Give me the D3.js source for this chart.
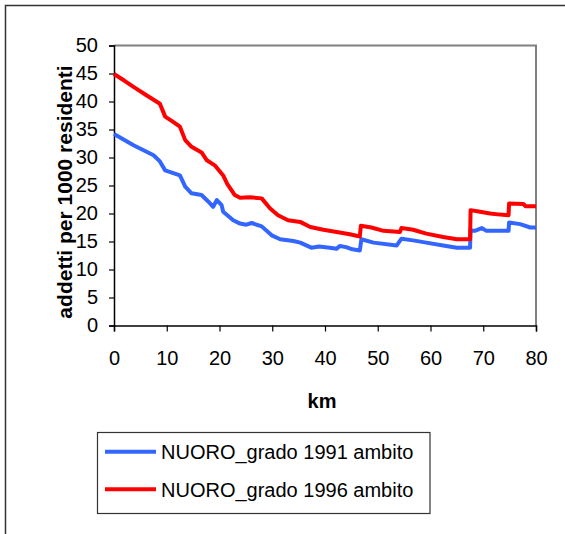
<!DOCTYPE html>
<html>
<head>
<meta charset="utf-8">
<script src="https://cdn.jsdelivr.net/npm/d3@7"></script>
<style>
  html, body { margin: 0; padding: 0; background: #fff; }
  svg { display: block; }
  text { font-family: "Liberation Sans", Arial, sans-serif; fill: #000; }
</style>
</head>
<body>
<svg id="chart" width="565" height="534"></svg>
<script>
// ---- data ----
const seriesNames = ["NUORO_grado 1991 ambito", "NUORO_grado 1996 ambito"];
const xTicks = [0, 10, 20, 30, 40, 50, 60, 70, 80];
const yTicks = [0, 5, 10, 15, 20, 25, 30, 35, 40, 45, 50];

const km1991 = [0, 3.7, 7.5, 8.7, 9.7, 12.5, 13.5, 14.7, 16.6, 17.9, 18.8, 19.5, 20.4, 20.7, 22.6, 23.9, 25.1, 26.1, 28, 29.9, 31.5, 34, 35.3, 37.4, 38.9, 40.9, 42.2, 42.8, 44, 45.2, 46.6, 46.9, 49.2, 53.6, 54.5, 56.7, 59.2, 62.4, 65, 67.5, 67.6, 68.4, 69.7, 70.6, 74.8, 74.9, 77, 78.9, 80];
const addetti1991 = [34.2, 32.2, 30.4, 29.3, 27.7, 26.8, 24.8, 23.6, 23.3, 22.1, 21.2, 22.4, 21.5, 20.3, 18.8, 18.2, 18.0, 18.3, 17.7, 16.1, 15.4, 15.1, 14.8, 13.9, 14.1, 13.9, 13.7, 14.2, 14.0, 13.6, 13.4, 15.4, 14.8, 14.3, 15.5, 15.2, 14.8, 14.3, 13.9, 13.9, 17.0, 16.9, 17.4, 16.9, 16.9, 18.4, 18.1, 17.5, 17.5];

const km1996 = [0, 2, 3.7, 6, 8.7, 9.7, 11, 12.5, 13.5, 14.7, 16.6, 17.6, 19.1, 20.7, 21.4, 22.9, 23.9, 25.8, 28, 29.6, 31.1, 33, 35.3, 37.2, 39.7, 42.2, 44.7, 46.6, 46.8, 48.8, 51.1, 54.2, 54.5, 56.7, 59.2, 62.4, 65, 67.5, 67.6, 69.4, 71.3, 73.2, 74.8, 74.9, 77.6, 78, 80];
const addetti1996 = [44.9, 43.7, 42.6, 41.2, 39.6, 37.3, 36.5, 35.5, 33.1, 31.9, 30.9, 29.5, 28.6, 26.8, 25.4, 23.3, 22.8, 22.9, 22.7, 20.9, 19.7, 18.8, 18.5, 17.6, 17.1, 16.7, 16.3, 15.9, 17.8, 17.5, 16.9, 16.7, 17.4, 17.1, 16.4, 15.8, 15.4, 15.4, 20.6, 20.3, 20.0, 19.8, 19.7, 21.8, 21.7, 21.3, 21.3];

const seriesColors = ["#3366FF", "#FF0000"];

// ---- layout ----
const svg = d3.select("#chart");
const plot = { left: 114, right: 536, top: 45.5, bottom: 325.5 };

// outer frame
svg.append("rect")
  .attr("x", 5.5).attr("y", 5.5)
  .attr("width", 600).attr("height", 600)
  .attr("fill", "none").attr("stroke", "#333").attr("stroke-width", 1.5);

const x = d3.scaleLinear().domain([0, 80]).range([plot.left, plot.right]);
const y = d3.scaleLinear().domain([0, 50]).range([plot.bottom, plot.top]);

// plot-area border (top/right grey)
svg.append("path")
  .attr("d", `M${plot.left},${plot.top}H${plot.right}V${plot.bottom}`)
  .attr("fill", "none").attr("stroke", "#808080").attr("stroke-width", 2);

// axes
const yAxis = svg.append("g")
  .attr("transform", `translate(${plot.left},0)`)
  .call(d3.axisLeft(y).tickValues(yTicks).tickSize(5).tickPadding(11).tickFormat(d3.format("d")));
const xAxis = svg.append("g")
  .attr("transform", `translate(0,${plot.bottom})`)
  .call(d3.axisBottom(x).tickValues(xTicks).tickSize(6).tickPadding(19).tickFormat(d3.format("d")));

[yAxis, xAxis].forEach(g => {
  g.select(".domain").attr("stroke", "#000").attr("stroke-width", 1.5);
  g.selectAll(".tick line").attr("stroke", "#000").attr("stroke-width", 1.2);
  g.selectAll(".tick text")
    .attr("font-family", "'Liberation Sans', Arial, sans-serif")
    .attr("font-size", 20).attr("fill", "#000");
});
xAxis.selectAll(".tick text").attr("dy", null).attr("y", 39).attr("dominant-baseline", "auto");

// lines
const line = d3.line().x(d => x(d[0])).y(d => y(d[1]));
const data1991 = km1991.map((k, i) => [k, addetti1991[i]]);
const data1996 = km1996.map((k, i) => [k, addetti1996[i]]);
[data1991, data1996].forEach((d, i) => {
  svg.append("path")
    .datum(d)
    .attr("d", line)
    .attr("fill", "none")
    .attr("stroke", seriesColors[i])
    .attr("stroke-width", 4)
    .attr("stroke-linejoin", "round");
});

// axis titles
svg.append("text")
  .attr("x", (plot.left + plot.right) / 2 - 3)
  .attr("y", 408)
  .attr("text-anchor", "middle")
  .attr("font-weight", "bold")
  .attr("font-size", 20)
  .text("km");

svg.append("text")
  .attr("transform", `translate(72,192) rotate(-90)`)
  .attr("text-anchor", "middle")
  .attr("font-weight", "bold")
  .attr("font-size", 21)
  .text("addetti per 1000 residenti");

// legend
const legend = svg.append("g");
legend.append("rect")
  .attr("x", 97.5).attr("y", 432.5)
  .attr("width", 332.5).attr("height", 81)
  .attr("fill", "#fff").attr("stroke", "#333").attr("stroke-width", 1.2);
seriesNames.forEach((name, i) => {
  const ly = 451.7 + i * 37.6;
  legend.append("line")
    .attr("x1", 105).attr("x2", 156)
    .attr("y1", ly).attr("y2", ly)
    .attr("stroke", seriesColors[i]).attr("stroke-width", 4);
  legend.append("text")
    .attr("x", 161).attr("y", ly + 7.2)
    .attr("font-size", 20)
    .text(name);
});
</script>
</body>
</html>
